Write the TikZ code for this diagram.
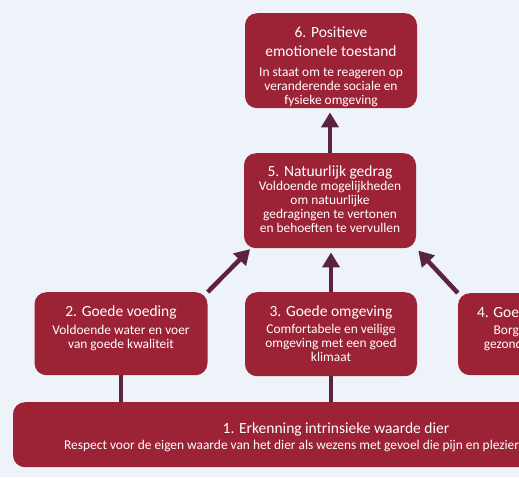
\documentclass[tikz,border=0pt]{standalone}
\usepackage{fontspec}
\setmainfont{Carlito}
\usetikzlibrary{positioning,arrows.meta}
\definecolor{vakrood}{HTML}{9B2335}
\definecolor{pijlpaars}{HTML}{5A2340}
\definecolor{achtergrond}{HTML}{EEF3F9}
\newcommand{\kop}{\fontsize{15.5}{18.5}\selectfont}
\newcommand{\onder}{\fontsize{13.4}{14}\selectfont}
% fixed-size box text, top aligned: [top pad]{width}{height}{title}{sub}
\newcommand{\vaktekst}[5][14pt]{\parbox[c][#3][t]{#2}{\centering\vspace*{#1}{\kop #4\par}{\onder #5\par}}}

\begin{document}
\begin{tikzpicture}[
x=1pt, y=-1pt,
vak/.style={fill=vakrood, rounded corners=12pt, text=white, inner sep=0pt, anchor=north},
pijl/.style={-{Triangle[width=17pt,length=15pt]}, line width=4.5pt, pijlpaars},
lijn/.style={line width=4.5pt, pijlpaars}
]
\useasboundingbox (0,0) rectangle (519,477);
\fill[achtergrond] (0,0) rectangle (519,477);
\clip (0,0) rectangle (519,477);

\node[vak] (n6) at (331,13) {\vaktekst{172pt}{95pt}{6. Positieve\\emotionele toestand}{\vspace{6.5pt}In staat om te reageren op\\veranderende sociale en\\fysieke omgeving}};
\node[vak] (n5) at (330,153) {\vaktekst[13pt]{172pt}{95pt}{5. Natuurlijk gedrag}{Voldoende mogelijkheden\\om natuurlijke\\gedragingen te vertonen\\en behoeften te vervullen}};
\node[vak] (n2) at (121,292) {\vaktekst{173pt}{83pt}{2. Goede voeding}{\vspace{3.5pt}Voldoende water en voer\\van goede kwaliteit}};
\node[vak] (n3) at (331,292) {\vaktekst{172pt}{84pt}{3. Goede omgeving}{\vspace{2.5pt}Comfortabele en veilige\\omgeving met een goed\\klimaat}};
\node[vak] (n4) at (544,293) {\vaktekst{172pt}{82pt}{4. Goede gezondheid}{\vspace{2.5pt}Borging van goede\\gezondheid en welzijn}};
\node[vak] (n1) at (336,402) {\vaktekst[21pt]{646pt}{65pt}{1. Erkenning intrinsieke waarde dier}{\vspace{1.5pt}Respect voor de eigen waarde van het dier als wezens met gevoel die pijn en plezier kunnen ervaren}};

\draw[pijl, shorten >=4pt] (n5.north) -- (n5.north |- n6.south);
\draw[pijl, shorten >=4pt] (n3.north) -- (n3.north |- n5.south);
\draw[pijl, shorten >=1pt] (n2.north east) -- ([xshift=7pt]n5.south west);
\draw[pijl, shorten >=3pt] (n4.north west) -- (n5.south east);
\draw[lijn] (n2.south) -- (n2.south |- n1.north);
\draw[lijn] (n3.south) -- (n3.south |- n1.north);
\end{tikzpicture}
\end{document}
